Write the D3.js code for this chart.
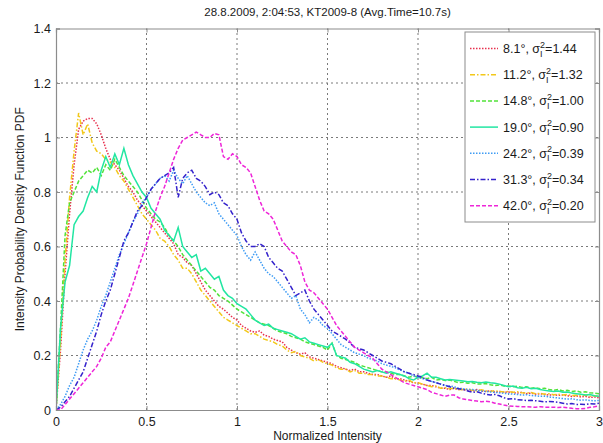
<!DOCTYPE html>
<html>
<head>
<meta charset="utf-8">
<script src="https://cdn.jsdelivr.net/npm/d3@7"></script>
<style>
  html, body { margin: 0; padding: 0; background: #fff; }
  svg { display: block; font-family: "Liberation Sans", Arial, sans-serif; }
</style>
</head>
<body>
<svg id="chart" width="603" height="443"></svg>
<script>
// Normalized intensity bins: 0 to 3 in steps of 0.025
const intensity = d3.range(0, 121).map(i => +(i * 0.025).toFixed(3));

const angle8_1 = [
  0, 0.22, 0.50, 0.72, 0.90, 1.03, 1.06, 1.07, 1.07, 1.05,
  1.01, 0.96, 0.92, 0.90, 0.88, 0.85, 0.82, 0.80, 0.77, 0.75,
  0.73, 0.71, 0.69, 0.67, 0.65, 0.63, 0.61, 0.57, 0.56, 0.54,
  0.53, 0.50, 0.47, 0.44, 0.42, 0.40, 0.38, 0.37, 0.355, 0.34,
  0.33, 0.31, 0.30, 0.29, 0.285, 0.29, 0.275, 0.27, 0.26, 0.255,
  0.25, 0.23, 0.22, 0.21, 0.205, 0.21, 0.195, 0.19, 0.185, 0.18,
  0.175, 0.17, 0.16, 0.155, 0.15, 0.145, 0.15, 0.14, 0.14, 0.135,
  0.13, 0.13, 0.125, 0.12, 0.125, 0.115, 0.115, 0.11, 0.105, 0.10,
  0.10, 0.095, 0.09, 0.09, 0.085, 0.08, 0.08, 0.075, 0.08, 0.075,
  0.075, 0.072, 0.07, 0.075, 0.07, 0.068, 0.07, 0.066, 0.068, 0.065,
  0.066, 0.064, 0.062, 0.065, 0.06, 0.062, 0.058, 0.06, 0.057, 0.055,
  0.056, 0.054, 0.055, 0.052, 0.05, 0.052, 0.048, 0.05, 0.046, 0.048,
  0.045
];

const angle11_2 = [
  0, 0.25, 0.55, 0.78, 0.95, 1.09, 1.01, 1.05, 0.98, 0.95,
  0.94, 0.92, 0.91, 0.89, 0.86, 0.84, 0.81, 0.78, 0.75, 0.72,
  0.70, 0.68, 0.66, 0.63, 0.62, 0.60, 0.57, 0.55, 0.52, 0.52,
  0.50, 0.47, 0.44, 0.42, 0.40, 0.38, 0.36, 0.34, 0.33, 0.32,
  0.31, 0.30, 0.29, 0.28, 0.28, 0.27, 0.26, 0.255, 0.25, 0.24,
  0.235, 0.22, 0.21, 0.215, 0.20, 0.195, 0.19, 0.18, 0.185, 0.175,
  0.17, 0.165, 0.155, 0.15, 0.15, 0.14, 0.145, 0.135, 0.135, 0.13,
  0.13, 0.125, 0.125, 0.12, 0.115, 0.115, 0.11, 0.105, 0.11, 0.10,
  0.10, 0.095, 0.09, 0.085, 0.088, 0.08, 0.082, 0.078, 0.08, 0.075,
  0.075, 0.078, 0.072, 0.07, 0.074, 0.07, 0.068, 0.071, 0.068, 0.066,
  0.068, 0.065, 0.067, 0.063, 0.062, 0.064, 0.06, 0.061, 0.058, 0.06,
  0.056, 0.058, 0.055, 0.057, 0.053, 0.054, 0.052, 0.055, 0.05, 0.052,
  0.05
];

const angle14_8 = [
  0, 0.30, 0.64, 0.76, 0.80, 0.84, 0.86, 0.88, 0.87, 0.89,
  0.86, 0.90, 0.88, 0.92, 0.89, 0.86, 0.84, 0.82, 0.80, 0.77,
  0.74, 0.72, 0.70, 0.69, 0.67, 0.64, 0.62, 0.60, 0.57, 0.55,
  0.53, 0.51, 0.49, 0.47, 0.45, 0.44, 0.42, 0.41, 0.40, 0.385,
  0.37, 0.36, 0.35, 0.34, 0.33, 0.32, 0.315, 0.31, 0.30, 0.29,
  0.285, 0.28, 0.27, 0.265, 0.26, 0.25, 0.245, 0.24, 0.235, 0.23,
  0.22, 0.245, 0.20, 0.19, 0.185, 0.18, 0.175, 0.165, 0.16, 0.155,
  0.15, 0.145, 0.14, 0.14, 0.135, 0.13, 0.13, 0.125, 0.12, 0.125,
  0.12, 0.118, 0.115, 0.12, 0.11, 0.112, 0.108, 0.11, 0.105, 0.10,
  0.102, 0.098, 0.10, 0.096, 0.095, 0.097, 0.093, 0.09, 0.092, 0.088,
  0.088, 0.085, 0.087, 0.083, 0.085, 0.08, 0.082, 0.078, 0.08, 0.075,
  0.072, 0.075, 0.07, 0.072, 0.068, 0.07, 0.065, 0.067, 0.063, 0.062,
  0.06
];

const angle19_0 = [
  0, 0.30, 0.47, 0.53, 0.68, 0.71, 0.73, 0.78, 0.82, 0.80,
  0.88, 0.93, 0.89, 0.94, 0.90, 0.96, 0.90, 0.86, 0.83, 0.80,
  0.78, 0.74, 0.72, 0.70, 0.66, 0.64, 0.62, 0.67, 0.60, 0.58,
  0.56, 0.57, 0.51, 0.52, 0.50, 0.48, 0.49, 0.44, 0.42, 0.41,
  0.39, 0.38, 0.37, 0.35, 0.33, 0.32, 0.31, 0.315, 0.30, 0.295,
  0.29, 0.285, 0.28, 0.27, 0.26, 0.265, 0.25, 0.245, 0.24, 0.235,
  0.23, 0.245, 0.20, 0.195, 0.19, 0.175, 0.17, 0.16, 0.15, 0.145,
  0.14, 0.145, 0.14, 0.135, 0.14, 0.135, 0.13, 0.125, 0.115, 0.11,
  0.12, 0.125, 0.135, 0.12, 0.12, 0.115, 0.11, 0.112, 0.11, 0.108,
  0.106, 0.104, 0.105, 0.102, 0.10, 0.103, 0.10, 0.098, 0.095, 0.09,
  0.085, 0.088, 0.082, 0.08, 0.083, 0.078, 0.08, 0.075, 0.072, 0.07,
  0.068, 0.07, 0.065, 0.066, 0.062, 0.06, 0.058, 0.055, 0.057, 0.052,
  0.05
];

const angle24_2 = [
  0, 0.02, 0.05, 0.09, 0.12, 0.17, 0.22, 0.26, 0.29, 0.33,
  0.38, 0.42, 0.47, 0.52, 0.57, 0.61, 0.65, 0.69, 0.72, 0.76,
  0.78, 0.81, 0.83, 0.85, 0.86, 0.84, 0.88, 0.85, 0.83, 0.86,
  0.83, 0.80, 0.78, 0.76, 0.75, 0.76, 0.72, 0.70, 0.68, 0.66,
  0.64, 0.60, 0.57, 0.55, 0.58, 0.55, 0.52, 0.50, 0.49, 0.47,
  0.45, 0.43, 0.41, 0.42, 0.37, 0.35, 0.32, 0.34, 0.33, 0.31,
  0.30, 0.28, 0.26, 0.24, 0.23, 0.22, 0.21, 0.205, 0.20, 0.19,
  0.185, 0.18, 0.17, 0.165, 0.16, 0.155, 0.147, 0.14, 0.135, 0.125,
  0.12, 0.115, 0.11, 0.105, 0.10, 0.095, 0.09, 0.088, 0.085, 0.08,
  0.078, 0.075, 0.075, 0.072, 0.07, 0.068, 0.066, 0.065, 0.063, 0.061,
  0.06, 0.058, 0.057, 0.055, 0.056, 0.053, 0.052, 0.05, 0.051, 0.048,
  0.046, 0.044, 0.042, 0.04, 0.041, 0.038, 0.036, 0.037, 0.035, 0.034,
  0.035
];

const angle31_3 = [
  0, 0.01, 0.03, 0.05, 0.08, 0.11, 0.14, 0.19, 0.24, 0.29,
  0.35, 0.40, 0.44, 0.50, 0.56, 0.62, 0.65, 0.69, 0.73, 0.75,
  0.78, 0.81, 0.83, 0.85, 0.86, 0.87, 0.89, 0.78, 0.85, 0.87,
  0.88, 0.85, 0.84, 0.82, 0.79, 0.80, 0.79, 0.76, 0.75, 0.72,
  0.70, 0.65, 0.62, 0.60, 0.60, 0.61, 0.60, 0.56, 0.54, 0.52,
  0.51, 0.48, 0.45, 0.42, 0.43, 0.44, 0.40, 0.37, 0.35, 0.33,
  0.31, 0.29, 0.28, 0.27, 0.26, 0.245, 0.23, 0.225, 0.22, 0.21,
  0.20, 0.19, 0.18, 0.175, 0.17, 0.16, 0.15, 0.14, 0.135, 0.13,
  0.125, 0.12, 0.11, 0.105, 0.10, 0.095, 0.09, 0.085, 0.08, 0.078,
  0.075, 0.07, 0.065, 0.067, 0.062, 0.058, 0.055, 0.057, 0.052, 0.045,
  0.04, 0.042, 0.038, 0.037, 0.035, 0.036, 0.034, 0.032, 0.03, 0.031,
  0.03, 0.028, 0.025, 0.022, 0.024, 0.02, 0.021, 0.02, 0.023, 0.022,
  0.025
];

const angle42_0 = [
  0, 0.0, 0.02, 0.04, 0.06, 0.08, 0.10, 0.12, 0.14, 0.16,
  0.19, 0.23, 0.25, 0.29, 0.33, 0.37, 0.41, 0.46, 0.51, 0.56,
  0.61, 0.67, 0.73, 0.78, 0.82, 0.87, 0.92, 0.96, 0.99, 1.00,
  1.01, 1.02, 1.01, 1.00, 1.00, 1.015, 1.01, 0.93, 0.92, 0.94,
  0.93, 0.90, 0.89, 0.87, 0.82, 0.77, 0.73, 0.72, 0.70, 0.66,
  0.62, 0.60, 0.58, 0.57, 0.53, 0.47, 0.44, 0.43, 0.41, 0.39,
  0.37, 0.34, 0.31, 0.29, 0.27, 0.25, 0.23, 0.22, 0.21, 0.20,
  0.19, 0.17, 0.15, 0.14, 0.13, 0.12, 0.11, 0.10, 0.095, 0.09,
  0.085, 0.08, 0.075, 0.065, 0.06, 0.055, 0.05, 0.055, 0.055, 0.045,
  0.04, 0.038, 0.035, 0.033, 0.03, 0.032, 0.03, 0.025, 0.022, 0.018,
  0.015, 0.014, 0.013, 0.012, 0.012, 0.011, 0.01, 0.012, 0.01, 0.01,
  0.01, 0.009, 0.01, 0.008, 0.006, 0.005, 0.004, 0.006, 0.01, 0.012,
  0.015
];

// Legend labels: incidence angle and scintillation index
const angles = ["8.1", "11.2", "14.8", "19.0", "24.2", "31.3", "42.0"];
const sigmas = ["1.44", "1.32", "1.00", "0.90", "0.39", "0.34", "0.20"];
const seriesValues = [angle8_1, angle11_2, angle14_8, angle19_0, angle24_2, angle31_3, angle42_0];

const xTicks = [0, 0.5, 1, 1.5, 2, 2.5, 3];
const yTicks = [0, 0.2, 0.4, 0.6, 0.8, 1, 1.2, 1.4];

const titleText = "28.8.2009, 2:04:53, KT2009-8 (Avg.Time=10.7s)";
const xLabel = "Normalized Intensity";
const yLabel = "Intensity Probability Density Function PDF";

// Line styles in the MATLAB manner: ':' '-.' '--' '-' ':' '-.' '--'
const colors = ["#e8304e", "#f2c81a", "#52e23a", "#22e6a2", "#3f9cf4", "#3422cc", "#ee26d8"];
const dashes = ["1.5,1.5", "5,2,1.5,2", "4,2", null, "1.5,1.5", "5,2,1.5,2", "4,2"];

const svg = d3.select("#chart");
const margin = { left: 56, right: 4, top: 28.5, bottom: 33 };
const W = 603, H = 443;
const textColor = "#1a1a1a";

const x = d3.scaleLinear().domain([0, 3]).range([margin.left, W - margin.right]);
const y = d3.scaleLinear().domain([0, 1.4]).range([H - margin.bottom, margin.top]);

// Grid
const grid = svg.append("g").attr("stroke", "#7a7a7a").attr("stroke-width", 1)
  .attr("stroke-dasharray", "2,3");
xTicks.slice(1, -1).forEach(t => {
  grid.append("line").attr("x1", x(t)).attr("x2", x(t))
    .attr("y1", y(0)).attr("y2", y(1.4));
});
yTicks.slice(1, -1).forEach(t => {
  grid.append("line").attr("x1", x(0)).attr("x2", x(3))
    .attr("y1", y(t)).attr("y2", y(t));
});

// Curves
svg.append("clipPath").attr("id", "plotClip").append("rect")
  .attr("x", x(0)).attr("y", y(1.4)).attr("width", x(3) - x(0)).attr("height", y(0) - y(1.4));

const line = d3.line().x(d => x(d[0])).y(d => y(d[1]));
const curves = svg.append("g").attr("clip-path", "url(#plotClip)");
seriesValues.forEach((vals, k) => {
  curves.append("path")
    .datum(intensity.map((v, i) => [v, vals[i]]))
    .attr("d", line)
    .attr("fill", "none")
    .attr("stroke", colors[k])
    .attr("stroke-width", 1.5)
    .attr("stroke-dasharray", dashes[k]);
});

// Axes box with inward ticks
const axisColor = "#8c8c8c";
const xAxisB = d3.axisBottom(x).tickValues(xTicks).tickSize(-4).tickFormat(d3.format("~g"));
const xAxisT = d3.axisTop(x).tickValues(xTicks).tickSize(-4).tickFormat("");
const yAxisL = d3.axisLeft(y).tickValues(yTicks).tickSize(-4).tickFormat(d3.format("~g"));
const yAxisR = d3.axisRight(y).tickValues(yTicks).tickSize(-4).tickFormat("");

function styleAxis(g) {
  g.select(".domain").attr("stroke", axisColor).attr("stroke-width", 1.2);
  g.selectAll(".tick line").attr("stroke", axisColor);
  g.selectAll(".tick text").attr("fill", textColor).style("font-size", "12.5px")
    .style("font-family", "'Liberation Sans', Arial, sans-serif");
}
svg.append("g").attr("transform", `translate(0,${y(0)})`).call(xAxisB).call(styleAxis)
  .call(g => g.selectAll(".tick text").attr("dy", "1.05em").attr("y", 3));
svg.append("g").attr("transform", `translate(0,${y(1.4)})`).call(xAxisT).call(styleAxis);
svg.append("g").attr("transform", `translate(${x(0)},0)`).call(yAxisL).call(styleAxis)
  .call(g => g.selectAll(".tick text").attr("x", -5));
svg.append("g").attr("transform", `translate(${x(3)},0)`).call(yAxisR).call(styleAxis);

// Title and axis labels
svg.append("text").attr("x", (x(0) + x(3)) / 2).attr("y", 16)
  .attr("text-anchor", "middle").attr("fill", textColor).style("font-size", "11.5px")
  .text(titleText);
svg.append("text").attr("x", (x(0) + x(3)) / 2).attr("y", 440)
  .attr("text-anchor", "middle").attr("fill", textColor).style("font-size", "12px")
  .text(xLabel);
svg.append("text")
  .attr("transform", `translate(24,${(y(0) + y(1.4)) / 2}) rotate(-90)`)
  .attr("text-anchor", "middle").attr("fill", textColor).style("font-size", "12px")
  .text(yLabel);

// Legend
const legend = svg.append("g");
const lgX = 465, lgY = 32, lgW = 130, lgH = 190, rowH = 26.2;
legend.append("rect").attr("x", lgX).attr("y", lgY).attr("width", lgW).attr("height", lgH)
  .attr("fill", "#fff").attr("stroke", "#8c8c8c").attr("stroke-width", 1);
angles.forEach((a, k) => {
  const cy = lgY + 16.5 + k * rowH;
  legend.append("line").attr("x1", lgX + 5).attr("x2", lgX + 33)
    .attr("y1", cy).attr("y2", cy)
    .attr("stroke", colors[k]).attr("stroke-width", 1.5)
    .attr("stroke-dasharray", dashes[k]);
  const t = legend.append("text").attr("x", lgX + 38).attr("y", cy + 4.5)
    .attr("fill", textColor).style("font-size", "12.5px");
  t.append("tspan").text(`${a}°, σ`);
  t.append("tspan").attr("dy", 3.5).style("font-size", "9px").text("I");
  t.append("tspan").attr("dx", -2.5).attr("dy", -9).style("font-size", "9px").text("2");
  t.append("tspan").attr("dy", 5.5).text(`=${sigmas[k]}`);
});
</script>
</body>
</html>
